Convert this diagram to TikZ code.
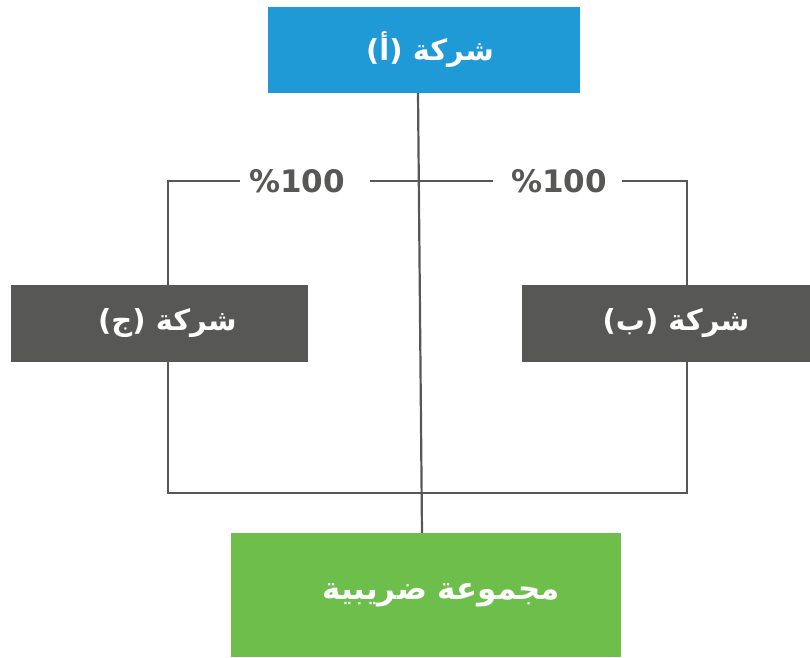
\documentclass[tikz,border=0pt]{standalone}
\usepackage{fontspec}
\TeXXeTstate=1
\newfontfamily\arabicfont[Script=Arabic]{DejaVu Sans}
\newfontfamily\numfont{DejaVu Sans}
\usetikzlibrary{calc}
\definecolor{boxblue}{HTML}{1F9AD6}
\definecolor{boxgray}{HTML}{575756}
\definecolor{boxgreen}{HTML}{6DBE4B}
\definecolor{linegray}{HTML}{575756}
\tikzset{
  box/.style={rectangle, inner sep=0pt, text=white, font=\arabicfont\bfseries\fontsize{29}{34}\selectfont},
  pct/.style={inner sep=0pt, text=linegray, font=\numfont\bfseries\fontsize{31}{36}\selectfont},
  conn/.style={draw=linegray, line width=2.2pt}
}
\begin{document}
\begin{tikzpicture}[x=1pt,y=-1pt]
\useasboundingbox (0,0) rectangle (810,657);
\node[box, fill=boxblue, minimum width=312pt, minimum height=86pt] (A) at (424,50) {\hspace*{12pt}\beginR شركة (أ)\endR};
\node[box, fill=boxgray, minimum width=297pt, minimum height=77pt] (C) at (159.5,323.5) {\hspace*{16pt}\beginR شركة (ج)\endR};
\node[box, fill=boxgray, minimum width=288pt, minimum height=77pt] (B) at (666,323.5) {\hspace*{20pt}\beginR شركة (ب)\endR};
\node[box, fill=boxgreen, minimum width=390pt, minimum height=124pt, font=\arabicfont\bfseries\fontsize{31}{36}\selectfont] (G) at (426,595) {\hspace*{30pt}\beginR مجموعة ضريبية\endR};
\node[pct] (p1) at (297,181) {\%100};
\node[pct] (p2) at (559,181) {\%100};
\coordinate (cl) at (168,181);
\coordinate (cr) at (687,181);
\coordinate (bl) at (168,493);
\coordinate (br) at (687,493);
% top to bottom line
\draw[conn] ($(A.south)+(-6,0)$) -- ($(G.north)+(-4,0)$);
% upper horizontal with gaps
\draw[conn] (C.north -| cl) -- (cl) -- (240,181);
\draw[conn] (370,181) -- (493,181);
\draw[conn] (622,181) -- (cr) -- (B.north -| cr);
% lower
\draw[conn] (C.south -| bl) -- (bl) -- (br) -- (B.south -| br);
\end{tikzpicture}
\end{document}
